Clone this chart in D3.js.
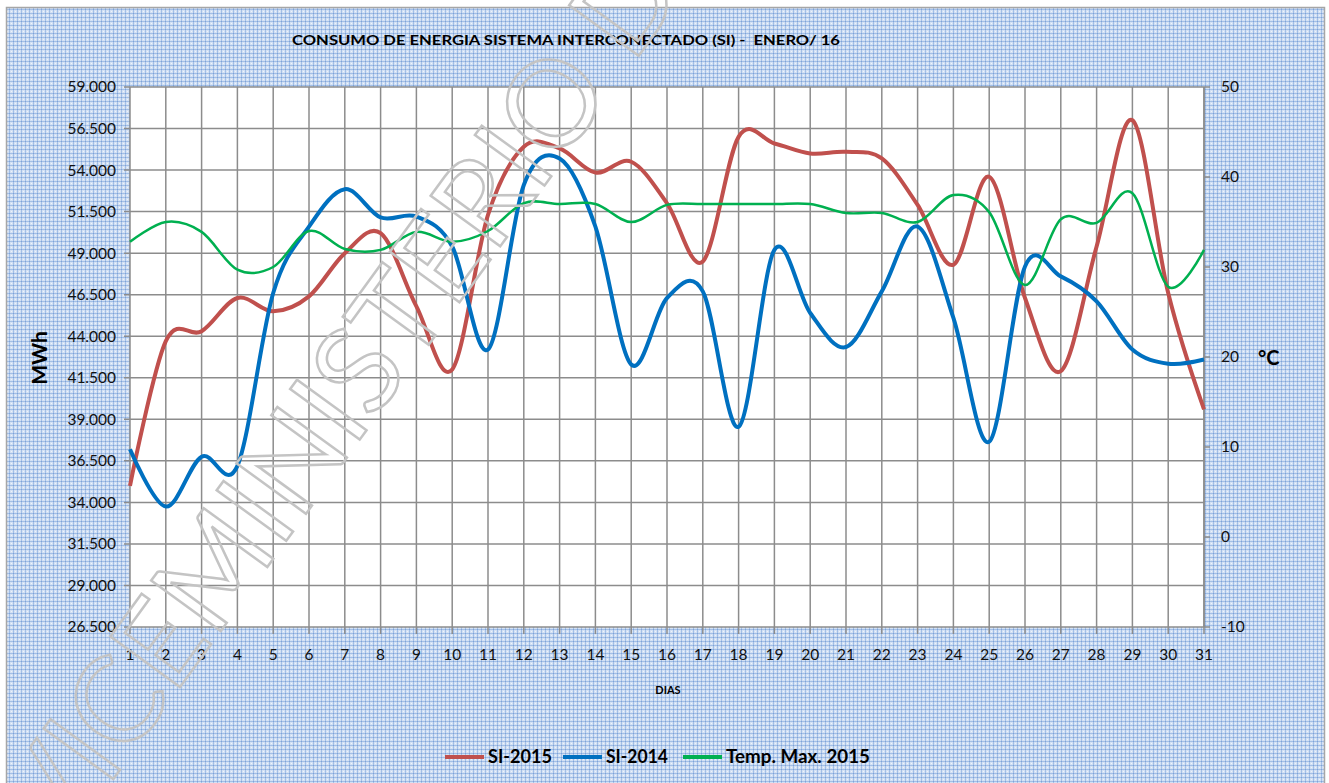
<!DOCTYPE html>
<html>
<head>
<meta charset="utf-8">
<script src="https://cdn.jsdelivr.net/npm/d3@7"></script>
<style>
  body { margin: 0; background: #fff; }
  text { font-family: Lato, "Open Sans", sans-serif; }
</style>
</head>
<body>
<div id="canvas"></div>
<script>
// datos de enero (dias 1..31)
var dias = d3.range(1, 32);
var si2015 = [35000, 43700, 44300, 46300, 45500, 46400, 49000, 50200, 45800, 42000,
              51300, 55400, 55300, 53850, 54500, 52000, 48500, 56000, 55600, 55000,
              55100, 54700, 51900, 48300, 53600, 46300, 41900, 49400, 57000, 46600, 39600];
var si2014 = [37200, 33750, 36750, 36200, 46600, 50600, 52850, 51150, 51200, 49400,
              43200, 53100, 54700, 50600, 42300, 46300, 46700, 38550, 49200, 45400,
              43350, 46700, 50600, 45100, 37650, 48200, 47600, 46100, 43200, 42350, 42600];
var tempMax = [32.8, 35.0, 33.9, 29.7, 30.0, 34.0, 32.0, 31.9, 33.9, 32.8,
               34.0, 37.1, 37.0, 37.0, 35.0, 36.9, 37.0, 37.0, 37.0, 37.0,
               36.0, 36.0, 35.0, 38.0, 36.1, 28.0, 35.3, 34.9, 38.2, 27.8, 31.9];
var mwhTicks = d3.range(26500, 59001, 2500);
var tempTicks = [-10, 0, 10, 20, 30, 40, 50];
var series = [
  {name: "SI-2015", values: si2015, color: "#c0504d", width: 4, axis: "left"},
  {name: "SI-2014", values: si2014, color: "#0070c0", width: 4, axis: "left"},
  {name: "Temp. Max. 2015", values: tempMax, color: "#00b050", width: 2.5, axis: "right"}
];

var W = 1329, H = 783;
var pLeft = 130, pRight = 1204, pTop = 87, pBottom = 627;

var svg = d3.select("#canvas").append("svg")
    .attr("width", W)
    .attr("height", H);

// fondo con trama azul
var defs = svg.append("defs");
var pat = defs.append("pattern")
    .attr("id", "trama")
    .attr("width", 4)
    .attr("height", 4)
    .attr("patternUnits", "userSpaceOnUse");
pat.append("rect").attr("width", 4).attr("height", 4).attr("fill", "#d3e1f4");
pat.append("rect").attr("x", 0).attr("y", 1).attr("width", 4).attr("height", 1).attr("fill", "#a3bfe6");
pat.append("rect").attr("x", 1).attr("y", 0).attr("width", 1).attr("height", 4).attr("fill", "#a3bfe6");
pat.append("rect").attr("x", 1).attr("y", 1).attr("width", 1).attr("height", 1).attr("fill", "#7fa3d8");
pat.append("rect").attr("x", 3).attr("y", 3).attr("width", 1).attr("height", 1).attr("fill", "#eef3fb");

svg.append("rect")
    .attr("x", 6.5).attr("y", 7.5)
    .attr("width", 1318).attr("height", 790)
    .attr("fill", "url(#trama)")
    .attr("stroke", "#a6a6a6")
    .attr("stroke-width", 1.5);

var x = d3.scaleLinear().domain([1, 31]).range([pLeft, pRight]);
var y = d3.scaleLinear().domain([26500, 59000]).range([pBottom, pTop]);
var y2 = d3.scaleLinear().domain([-10, 50]).range([pBottom, pTop]);

svg.append("rect")
    .attr("x", pLeft).attr("y", pTop)
    .attr("width", pRight - pLeft).attr("height", pBottom - pTop)
    .attr("fill", "#fff");

var grid = "#8c8c8c";

// rejilla vertical
svg.append("g").selectAll("line").data(dias).join("line")
    .attr("x1", d => x(d)).attr("x2", d => x(d))
    .attr("y1", pTop).attr("y2", pBottom + 7)
    .attr("stroke", grid).attr("stroke-width", 1.5);

// rejilla horizontal
svg.append("g").selectAll("line").data(mwhTicks).join("line")
    .attr("x1", pLeft - 6).attr("x2", pRight)
    .attr("y1", d => y(d)).attr("y2", d => y(d))
    .attr("stroke", grid).attr("stroke-width", 1.5);

// eje derecho
svg.append("line")
    .attr("x1", pRight).attr("x2", pRight)
    .attr("y1", pTop).attr("y2", pBottom)
    .attr("stroke", grid).attr("stroke-width", 1.5);
svg.append("g").selectAll("line").data(tempTicks).join("line")
    .attr("x1", pRight).attr("x2", pRight + 6)
    .attr("y1", d => y2(d)).attr("y2", d => y2(d))
    .attr("stroke", grid).attr("stroke-width", 1.5);

// etiquetas
svg.append("g").selectAll("text").data(mwhTicks).join("text")
    .attr("x", 116).attr("y", d => y(d))
    .attr("dy", "0.35em")
    .attr("text-anchor", "end")
    .attr("font-size", 15.5)
    .attr("fill", "#111")
    .text(d => d3.format(",")(d).replace(",", "."));

svg.append("g").selectAll("text").data(tempTicks).join("text")
    .attr("x", 1221).attr("y", d => y2(d))
    .attr("dy", "0.35em")
    .attr("font-size", 15.5)
    .attr("fill", "#111")
    .text(d => d);

svg.append("g").selectAll("text").data(dias).join("text")
    .attr("x", d => x(d)).attr("y", 655)
    .attr("dy", "0.35em")
    .attr("text-anchor", "middle")
    .attr("font-size", 15.5)
    .attr("fill", "#111")
    .text(d => d);

svg.append("text")
    .attr("x", 566).attr("y", 45)
    .attr("text-anchor", "middle")
    .attr("font-size", 14)
    .attr("font-weight", "bold")
    .attr("textLength", 548)
    .attr("lengthAdjust", "spacingAndGlyphs")
    .text("CONSUMO DE ENERGIA SISTEMA INTERCONECTADO (SI) -\u00a0\u00a0ENERO/ 16");

svg.append("text")
    .attr("transform", "translate(47,358) rotate(-90)")
    .attr("text-anchor", "middle")
    .attr("font-size", 21)
    .attr("font-weight", "bold")
    .text("MWh");

svg.append("text")
    .attr("x", 1258).attr("y", 365)
    .attr("font-size", 20)
    .attr("font-weight", "bold")
    .text("°C");

svg.append("text")
    .attr("x", 668).attr("y", 694)
    .attr("text-anchor", "middle")
    .attr("font-size", 11)
    .attr("font-weight", "bold")
    .text("DIAS");

// lineas suavizadas
series.forEach(function(s) {
  var sc = s.axis === "left" ? y : y2;
  var line = d3.line()
      .x((d, i) => x(dias[i]))
      .y(d => sc(d))
      .curve(d3.curveCardinal.tension(0));
  svg.append("path")
      .datum(s.values)
      .attr("d", line)
      .attr("fill", "none")
      .attr("stroke", s.color)
      .attr("stroke-width", s.width)
      .attr("stroke-linejoin", "round");
});

// leyenda
var legX = [445, 563, 683];
var legW = [64, 62, 144];
var leg = svg.append("g").selectAll("g").data(series).join("g")
    .attr("transform", (d, i) => "translate(" + legX[i] + ",757)");
leg.append("line")
    .attr("x1", 0).attr("x2", 39)
    .attr("stroke", d => d.color)
    .attr("stroke-width", 4);
leg.append("text")
    .attr("x", 43).attr("dy", "0.35em")
    .attr("font-size", 18)
    .attr("font-weight", "bold")
    .attr("textLength", (d, i) => legW[i])
    .attr("lengthAdjust", "spacingAndGlyphs")
    .text(d => d.name);

// marca de agua
var wm = svg.append("text")
    .attr("x", 0).attr("y", 0)
    .attr("dominant-baseline", "central")
    .attr("font-family", "Liberation Sans, Arial, sans-serif")
    .attr("font-size", 120)
    .attr("fill", "none")
    .attr("stroke", "#c4c4c4")
    .attr("stroke-width", 2.5)
    .text("VICEMINISTERIO DE ELECTRICIDAD");
var ang = 54;
var ext = wm.node().getExtentOfChar(8);
var cx = ext.x + ext.width / 2;
var a = ang * Math.PI / 180;
var tx = 355 - cx * Math.cos(a), ty = 368 + cx * Math.sin(a);
wm.attr("transform", "translate(" + tx + "," + ty + ") rotate(" + (-ang) + ")");
</script>
</body>
</html>
